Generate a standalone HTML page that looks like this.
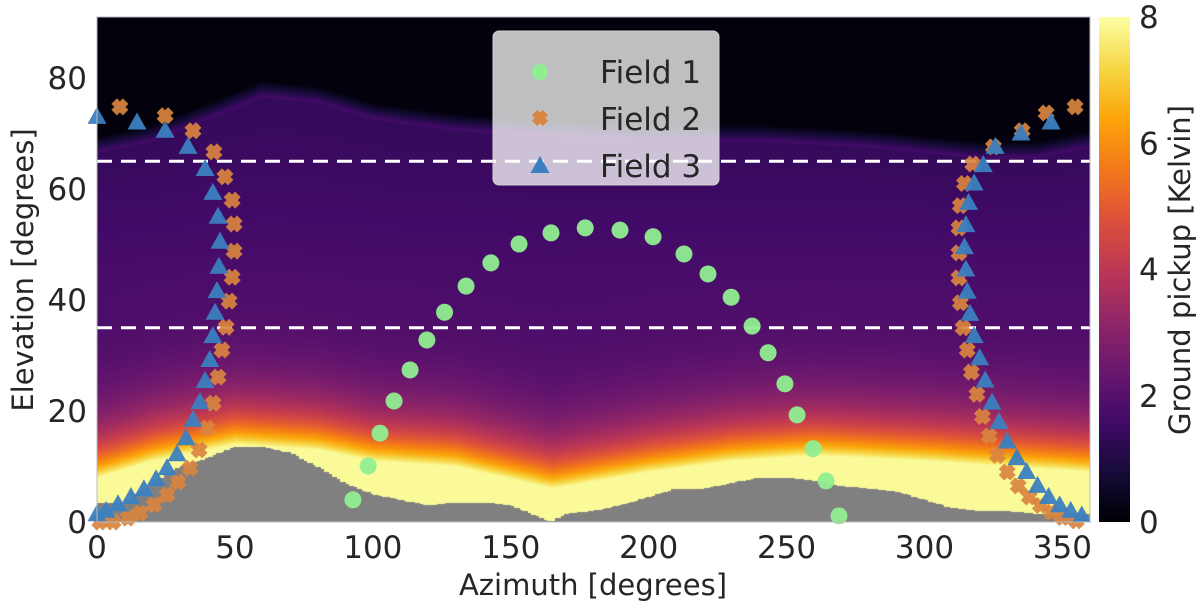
<!DOCTYPE html>
<html><head><meta charset="utf-8"><style>
html,body{margin:0;padding:0;background:#fff;width:1200px;height:613px;overflow:hidden}
#wrap{position:relative;width:1200px;height:613px}
canvas{position:absolute;left:0;top:0}
svg{position:absolute;left:0;top:0}
text{font-family:"DejaVu Sans","Liberation Sans",sans-serif;fill:#262626}
</style></head><body>
<div id="wrap">
<canvas id="heat" width="1200" height="613"></canvas>
<svg id="svg" width="1200" height="613" xmlns="http://www.w3.org/2000/svg">
<defs>
<linearGradient id="cbg" x1="0" y1="1" x2="0" y2="0">
<stop offset="0" stop-color="#000004"/><stop offset="0.1" stop-color="#160b39"/><stop offset="0.2" stop-color="#420a68"/><stop offset="0.3" stop-color="#6a176e"/><stop offset="0.4" stop-color="#932667"/><stop offset="0.5" stop-color="#bc3754"/><stop offset="0.6" stop-color="#dd513a"/><stop offset="0.7" stop-color="#f37819"/><stop offset="0.8" stop-color="#fca50a"/><stop offset="0.9" stop-color="#f6d746"/><stop offset="1" stop-color="#fcffa4"/>
</linearGradient>
</defs>
<g id="marks"></g>
<g id="axes"></g>
</svg>
</div>
<script>
// ---- data ----
const xTicks=[0,50,100,150,200,250,300,350];
const yTicks=[0,20,40,60,80];
const cTicks=[0,2,4,6,8];
const dashLevels=[65,35];
const terrainAz=[0,10,20,30,40,50,60,70,80,90,100,110,120,130,140,150,160,165,170,180,190,200,210,220,230,240,250,260,270,280,290,300,310,320,330,340,350,360];
const terrainEl=[3.4,3.5,7,10,11.5,13.5,13.5,12.5,10,7,5,4,3,3.5,3.5,3,1,0,1.5,2,3,4.5,6,6,7,8,8,7.5,6.5,6,5.5,4,2.5,2,2,1.5,1.5,1.5];
const glowAz=[0,20,50,80,100,130,165,200,230,260,300,330,360];
const glowEl=[8,11,14,13,11,10,6,9,11,12,11,10,9];
const darkAz=[0,20,40,60,80,100,130,160,200,240,280,300,320,340,360];
const darkEl=[68,70,74,78,77,74,72,71,70,70,69,68,67,67,69];
const f1Az=[92.8,98.3,102.6,107.7,113.5,119.6,126,133.8,142.8,153,164.6,177,189.6,201.6,212.8,221.5,229.9,237.5,243.3,249.4,253.8,259.6,264.3,269];
const f1El=[4,10.1,16,21.8,27.4,32.8,37.8,42.5,46.7,50.1,52.1,53,52.6,51.4,48.3,44.7,40.5,35.3,30.5,24.9,19.3,13.2,7.4,1.1];
const f2Az=[8.3,24.7,34.8,42.4,46.4,49,49.7,49.7,49,47.9,46.8,45.3,43.9,42.1,39.9,37,33.7,29.4,25.4,20.7,15.6,11.2,5.8,1,
354.6,344.1,335.4,325,317.5,314.5,313,312.5,312.5,312.5,313,314,315.5,317,319,321,323.5,326.5,330,334,338,342,346,350,355];
const f2El=[74.8,73.2,70.5,66.7,62.2,58,53.7,48.8,44.1,39.8,35.1,31,26.1,21.4,16.9,13,9.7,7.2,4.9,3.1,1.6,0.7,0,0,
74.8,73.7,70.5,67.6,64.5,61,57,53,48.5,44,39.5,35,31,27,23,19,15.5,12,9,6.5,4.5,3,1.8,0.8,0.2];
const f3Az=[0,14.5,24.7,33,39.2,42,43.9,44.6,44.2,43.5,42.8,42,40.9,39.2,37.3,34.8,32.3,29,25.4,21.4,17,12.3,7.6,3.3,0,
345.9,335,325.6,321.3,318,316,315,314.5,315,315.5,316.5,318,320,322,324.5,327,330,333.5,337,341,345,349,353,357];
const f3El=[73,72,70.5,67.6,63.6,59.3,55,50.5,46,41.6,37.7,33.5,29.2,25.4,21.6,18.4,15.1,12.2,9.7,7.7,5.9,4.5,3.2,2,1.4,
72,70,67.6,64.3,61,57.5,53.5,49.5,45.5,41.5,37.5,33.5,29.5,25.5,21.5,18,14.5,11.5,9,6.5,4.5,3,2,1.2];

// ---- scales ----
const X0=97,X1=1090,Y0=522,Y1=17,YMAX=91;
const sx=a=>X0+a*(X1-X0)/360;
const sy=e=>Y0-e*(Y0-Y1)/YMAX;
const NS='http://www.w3.org/2000/svg';
function mk(tag,attrs,parent){const el=document.createElementNS(NS,tag);for(const k in attrs)el.setAttribute(k,attrs[k]);parent.appendChild(el);return el;}
function interp(xs,ys,x){if(x<=xs[0])return ys[0];for(let i=1;i<xs.length;i++){if(x<=xs[i]){const t=(x-xs[i-1])/(xs[i]-xs[i-1]);return ys[i-1]+t*(ys[i]-ys[i-1]);}}return ys[ys.length-1];}

// ---- heatmap (per pixel) ----
const stops=[[0,0,4],[22,11,57],[66,10,104],[106,23,110],[147,38,103],[188,55,84],[221,81,58],[243,120,25],[252,165,10],[246,215,70],[252,255,164]];
function inferno(v){v=Math.max(0,Math.min(1,v))*10;const i=Math.min(9,Math.floor(v)),t=v-i;const a=stops[i],b=stops[i+1];return [a[0]+(b[0]-a[0])*t,a[1]+(b[1]-a[1])*t,a[2]+(b[2]-a[2])*t];}
const ctx=document.getElementById('heat').getContext('2d');
const W=X1-X0,H=Y0-Y1;
const img=ctx.createImageData(W,H);
for(let px=0;px<W;px++){
  const az=Math.floor(px*360/W)+0.5;
  const g=interp(glowAz,glowEl,az), dk=interp(darkAz,darkEl,az);
  const h=interp(terrainAz,terrainEl,Math.floor(az/1.5)*1.5+0.75);
  for(let py=0;py<H;py++){
    const e=(H-py-0.5)*YMAX/H;
    let c;
    if(e<=h){c=[128,128,128];}
    else{
      const d=e-g;
      let v= d<=0?7.9:1.7+6.2*Math.exp(-d/7);
      if(e>dk-1.5){v=v-Math.min(1,(e-(dk-1.5))/3)*(v-0.12);}
      else if(e>45){v-=(e-45)/(dk-45)*0.35;}
      c=inferno(v/8);
    }
    const k=(py*W+px)*4;
    img.data[k]=c[0];img.data[k+1]=c[1];img.data[k+2]=c[2];img.data[k+3]=255;
  }
}
ctx.putImageData(img,X0,Y1);

// ---- svg marks ----
const marks=document.getElementById('marks');
const axes=document.getElementById('axes');
dashLevels.forEach((lv)=>{
  const l=mk('line',{x1:X0,x2:X1,y1:sy(lv),y2:sy(lv),stroke:'#fff','stroke-width':3,'stroke-dasharray':'15 9'},marks);
  
  
});
function xPath(cx,cy,s){const w=s*0.65;const p=[[-s,-s+w],[-s+w,-s],[0,-w],[s-w,-s],[s,-s+w],[w,0],[s,s-w],[s-w,s],[0,w],[-s+w,s],[-s,s-w],[-w,0]];return 'M'+p.map(q=>(cx+q[0])+','+(cy+q[1])).join('L')+'Z';}
function tri(cx,cy,s){return `M${cx},${cy-s}L${cx+s*0.95},${cy+s*0.7}L${cx-s*0.95},${cy+s*0.7}Z`;}
f1Az.forEach((a,i)=>{
  const c=mk('circle',{cx:sx(a),cy:sy(f1El[i]),r:8.5,fill:'#90ee90','fill-opacity':0.95},marks);
  
  
});
f2Az.forEach((a,i)=>{
  const p=mk('path',{d:xPath(sx(a),sy(f2El[i]),8.5),fill:'#d9843f','fill-opacity':0.92},marks);
  
  
});
f3Az.forEach((a,i)=>{
  const p=mk('path',{d:tri(sx(a),sy(f3El[i]),10),fill:'#3b7fc0','fill-opacity':0.95},marks);
  
  
});

// ---- axes ----
const fr=mk('rect',{x:X0,y:Y1,width:X1-X0,height:Y0-Y1,fill:'none',stroke:'#bbb','stroke-width':1},axes);


xTicks.forEach(t=>{
  const tx=mk('text',{x:sx(t),y:558,'font-size':31,'text-anchor':'middle'},axes);tx.textContent=t;
  
  
});
yTicks.forEach(t=>{
  const tx=mk('text',{x:87,y:sy(t)+11,'font-size':31,'text-anchor':'end'},axes);tx.textContent=t;
  
  
});
const xl=mk('text',{x:593,y:595,'font-size':29,'text-anchor':'middle'},axes);xl.textContent='Azimuth [degrees]';


const yl=mk('text',{x:0,y:0,'font-size':29,'text-anchor':'middle',transform:'translate(33,270) rotate(-90)'},axes);yl.textContent='Elevation [degrees]';



// colorbar
const CB0=522,CB1=17;
const cb=mk('rect',{x:1099,y:CB1,width:31,height:CB0-CB1,fill:'url(#cbg)'},axes);


cTicks.forEach(t=>{
  const tx=mk('text',{x:1139,y:CB0-t/8*(CB0-CB1)+11,'font-size':31},axes);tx.textContent=t;
  
  
});
const cl=mk('text',{x:0,y:0,'font-size':29,'text-anchor':'middle',transform:'translate(1190,270) rotate(-90)'},axes);cl.textContent='Ground pickup [Kelvin]';



// legend
const lg=mk('g',{},axes);


mk('rect',{x:493,y:31,width:226,height:154,rx:6,fill:'#ffffff','fill-opacity':0.75,stroke:'#d0d0d0'},lg);
mk('circle',{cx:540,cy:72,r:8,fill:'#90ee90'},lg);
mk('path',{d:xPath(540,118,8),fill:'#d9843f'},lg);
mk('path',{d:tri(540,166,10),fill:'#3b7fc0'},lg);
[['Field 1',83],['Field 2',130],['Field 3',177]].forEach(([s,y])=>{
  const t=mk('text',{x:600,y:y,'font-size':31},lg);t.textContent=s;
  
  
});
</script>
</body></html>
